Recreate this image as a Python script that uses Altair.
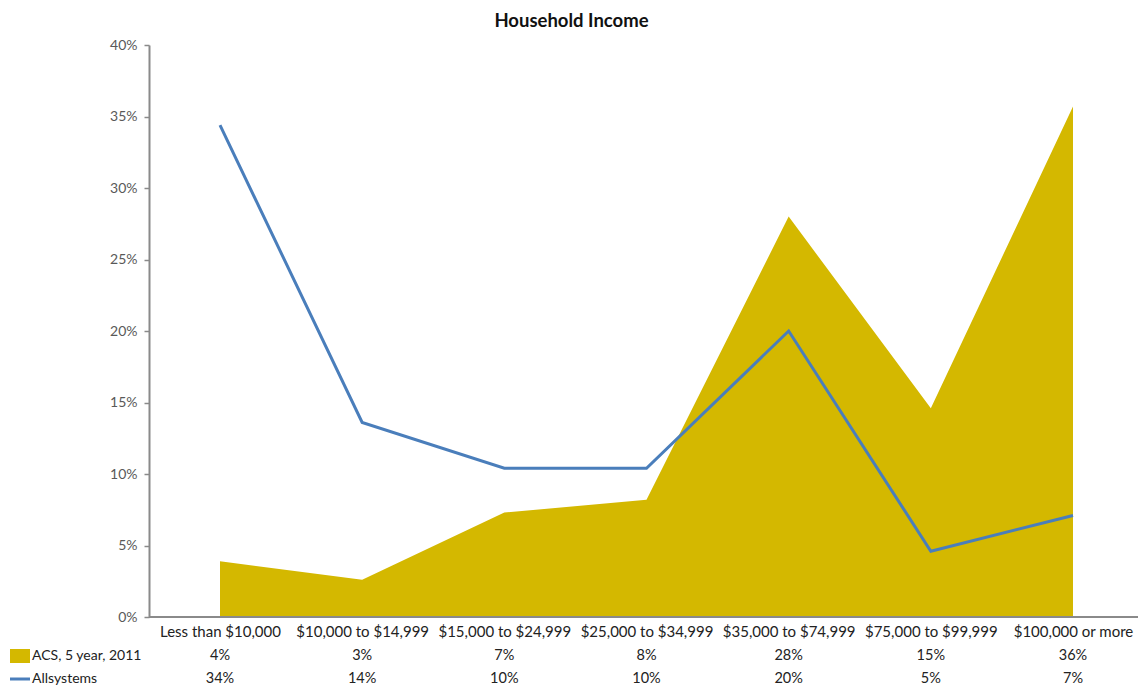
import altair as alt
import pandas as pd

categories = ["Less than $10,000", "$10,000 to $14,999", "$15,000 to $24,999",
              "$25,000 to $34,999", "$35,000 to $74,999", "$75,000 to $99,999",
              "$100,000 or more"]
acs = [3.9, 2.6, 7.3, 8.2, 28.0, 14.6, 35.7]
allsystems = [34.4, 13.6, 10.4, 10.4, 20.0, 4.6, 7.1]
series_names = ["ACS, 5 year, 2011", "Allsystems"]
y_ticks = [0, 5, 10, 15, 20, 25, 30, 35, 40]

GOLD = "#D4B800"
BLUE = "#4A7EBB"
GREY = "#8a8a8a"
FONT = "Lato"

df = pd.DataFrame({"cat": categories, "acs": acs, "all": allsystems})

W, H = 989, 572
PL, PT, PR, PB = 141, 37, 0, 71
ROW1 = H + 39
ROW2 = H + 62

xscale = alt.Scale(type="point", range=[71, 924], padding=0)
xenc = alt.X("cat:N", sort=categories, scale=xscale,
             axis=alt.Axis(title=None, labelAngle=0, ticks=False, domain=False,
                           labelFont=FONT, labelFontSize=15,
                           labelColor="#222222", labelPadding=7, labelLimit=200))
yscale = alt.Scale(domain=[0, 40], nice=False)

base = alt.Chart(df)

area = base.mark_area(color=GOLD, opacity=1).encode(
    x=xenc,
    y=alt.Y("acs:Q", scale=yscale,
            axis=alt.Axis(title=None, values=y_ticks, labelExpr="datum.value + '%'",
                          grid=False, tickSize=5, tickColor=GREY, tickWidth=1.5,
                          domainColor=GREY, domainWidth=2, labelFont=FONT,
                          labelFontSize=14, labelColor="#595959", labelPadding=7)),
)

baseline_rule = alt.Chart(pd.DataFrame({"k": [0]})).mark_rule(color=GREY, strokeWidth=2).encode(
    x=alt.value(0), x2=alt.value(W), y=alt.value(H),
)

line = base.mark_line(color=BLUE, strokeWidth=3).encode(
    x=alt.X("cat:N", sort=categories, scale=xscale),
    y=alt.Y("all:Q", scale=yscale),
)

row_acs = base.transform_calculate(lbl="format(datum.acs, '.0f') + '%'").mark_text(
    font=FONT, fontSize=14.5, color="#222222", baseline="middle").encode(
    x=alt.X("cat:N", sort=categories, scale=xscale),
    y=alt.value(ROW1),
    text="lbl:N",
)
row_all = base.transform_calculate(lbl="format(datum.all, '.0f') + '%'").mark_text(
    font=FONT, fontSize=14.5, color="#222222", baseline="middle").encode(
    x=alt.X("cat:N", sort=categories, scale=xscale),
    y=alt.value(ROW2),
    text="lbl:N",
)

leg = pd.DataFrame({"name": series_names})
leg_text1 = alt.Chart(leg.iloc[[0]]).mark_text(font=FONT, fontSize=14, color="#222222",
                                               align="left", baseline="middle").encode(
    x=alt.value(-PL + 24), y=alt.value(ROW1), text="name:N",
)
leg_text2 = alt.Chart(leg.iloc[[1]]).mark_text(font=FONT, fontSize=14, color="#222222",
                                               align="left", baseline="middle").encode(
    x=alt.value(-PL + 24), y=alt.value(ROW2), text="name:N",
)
leg_rect = alt.Chart(leg.iloc[[0]]).mark_rect(color=GOLD).encode(
    x=alt.value(-PL + 2), x2=alt.value(-PL + 22),
    y=alt.value(ROW1 - 7), y2=alt.value(ROW1 + 7),
)
leg_line = alt.Chart(leg.iloc[[1]]).mark_rule(color=BLUE, strokeWidth=3).encode(
    x=alt.value(-PL + 2), x2=alt.value(-PL + 22),
    y=alt.value(ROW2),
)

chart = alt.layer(area, baseline_rule, line, row_acs, row_all, leg_text1, leg_text2,
                  leg_rect, leg_line).properties(
    width=W, height=H,
    title=alt.TitleParams("Household Income", font=FONT, fontSize=18.5, fontWeight="bold",
                          color="#111111", anchor="middle", offset=8, dx=-72),
    autosize=alt.AutoSizeParams(type="none"),
    padding={"left": PL, "top": PT, "right": PR, "bottom": PB},
).configure_view(stroke=None)

chart.save("out.html", embed_options={"renderer": "svg", "actions": False})
